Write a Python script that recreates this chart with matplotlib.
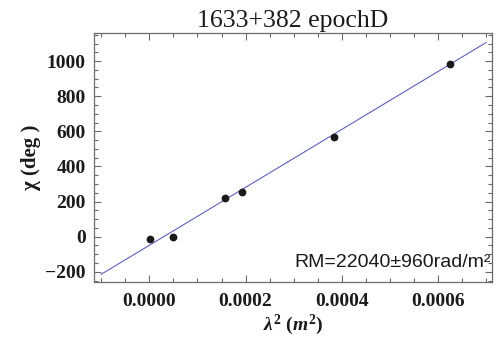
import numpy as np
import matplotlib
matplotlib.use("Agg")
import matplotlib.pyplot as plt
from matplotlib.ticker import MultipleLocator

# Measured polarization angles vs wavelength squared
lam2 = [0.0000021, 0.0000492, 0.000158, 0.000192, 0.000383, 0.000624]
chi = [-13, -2, 222, 256, 569, 981]

# Linear fit drawn across the plot range
fit_slope = 1.65e6
fit_intercept = -49
fit_range = [-0.0001, 0.0007]

title = "1633+382 epochD"
rm_label = "RM=22040\u00b1960rad/m\u00b2"

serif = "Liberation Serif"
plt.rcParams["mathtext.fontset"] = "custom"
plt.rcParams["mathtext.rm"] = "Liberation Serif:bold"
plt.rcParams["mathtext.bf"] = "Liberation Serif:bold"
plt.rcParams["mathtext.it"] = "Liberation Serif:italic:bold"

fig = plt.figure(figsize=(5.0, 3.4), dpi=100)
ax = fig.add_axes([0.188, 0.1706, 0.796, 0.7324])

xf = np.array(fit_range)
ax.plot(xf, fit_intercept + fit_slope * xf, color="#6060bc", lw=0.8, zorder=2)
ax.plot(lam2, chi, "o", color="#1a1a1a", ms=5.6, mec="none", zorder=3)

ax.set_xlim(-0.000115, 0.000712)
ax.set_ylim(-258, 1160)

ax.xaxis.set_major_locator(MultipleLocator(0.0002))
ax.xaxis.set_minor_locator(MultipleLocator(0.00005))
ax.yaxis.set_major_locator(MultipleLocator(200))
ax.yaxis.set_minor_locator(MultipleLocator(50))
ax.xaxis.set_major_formatter(plt.FuncFormatter(lambda v, p: f"{v:.4f}"))
ax.yaxis.set_major_formatter(plt.FuncFormatter(
    lambda v, p: f"\u2212{abs(int(round(v)))}" if v < 0 else f"{int(round(v))}"))

for s in ax.spines.values():
    s.set_color("#6a6a6a")
    s.set_linewidth(0.9)
ax.tick_params(which="both", direction="in", top=True, right=True,
               colors="#6a6a6a", width=0.8)
ax.tick_params(which="major", length=5, pad=6, labelcolor="#1a1a1a")
ax.tick_params(axis="x", which="major", pad=8)
ax.tick_params(which="minor", length=2.8)
for lab in ax.get_xticklabels() + ax.get_yticklabels():
    lab.set_fontfamily(serif)
    lab.set_fontweight("bold")
    lab.set_fontsize(14)

ax.set_title(title, fontfamily=serif, fontsize=18.5, pad=4, color="#1a1a1a")
ax.set_ylabel("\u03c7 (deg )", fontfamily=serif, fontweight="bold",
              fontsize=15, color="#1a1a1a", labelpad=3)
ax.set_xlabel(r"$\lambda^2$ ($m^2$)", fontfamily=serif, fontweight="bold",
              fontsize=14, color="#1a1a1a", labelpad=2)

ax.text(0.997, 0.045, rm_label, transform=ax.transAxes, ha="right", va="bottom",
        fontfamily="Liberation Sans", fontsize=14, color="#1a1a1a")

fig.savefig("out.png", dpi=100)
